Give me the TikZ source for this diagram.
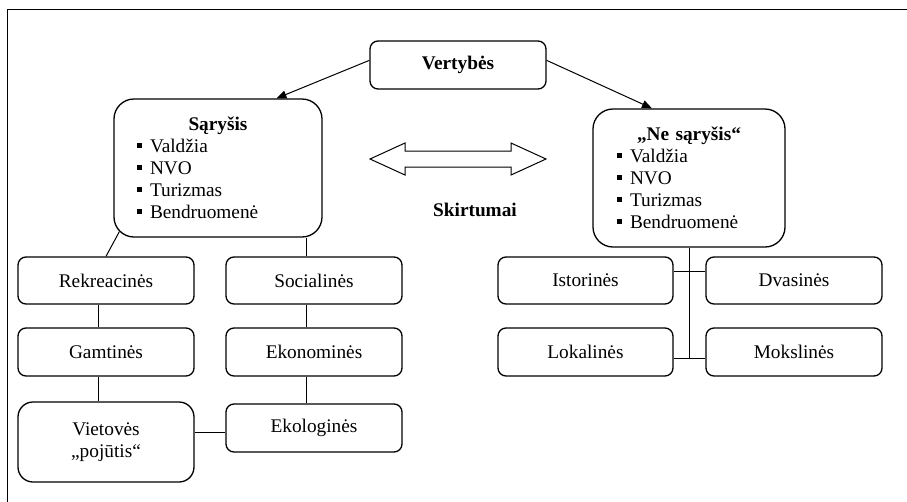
\documentclass[tikz,border=0pt]{standalone}
\usepackage{fontspec}
\setmainfont{Liberation Serif}
\usetikzlibrary{arrows.meta}
\usetikzlibrary{calc}
\setlength{\parindent}{0pt}
\newcommand{\listmark}{\rule[4.5pt]{5pt}{5pt}\hspace{8pt}}

\begin{document}
\begin{tikzpicture}[x=1pt,y=-1pt,
    font=\fontsize{19.3}{22}\selectfont,
    box/.style={draw, line width=1.3pt, rounded corners=8pt, minimum width=176pt, minimum height=47pt, inner sep=0pt, align=center},
    bigbox/.style={draw, line width=1.3pt, rounded corners=20pt, minimum height=138pt, inner ysep=0pt, align=left},
    arr/.style={-{Triangle[length=10pt,width=8pt]}, line width=1pt},
    link/.style={line width=1pt}]

    \useasboundingbox (0,0) rectangle (907,501);
    \clip (0,0) rectangle (907,501);
    \draw[line width=1pt] (7,9) rectangle (930,530);

    % top
    \node[box, minimum height=48pt] (vertybes) at (458,65) {\textbf{Vertybės}};
    \node[bigbox, text width=162pt, inner xsep=23pt] (sarysis) at (218,168)
        {{\centering\textbf{Sąryšis}\par}\listmark Valdžia\\\listmark NVO\\\listmark Turizmas\\\listmark Bendruomenė};
    \node[bigbox, text width=144pt, inner xsep=24pt] (nesarysis) at (689,178)
        {{\centering\textbf{„Ne sąryšis“}\par}\listmark Valdžia\\\listmark NVO\\\listmark Turizmas\\\listmark Bendruomenė};

    \draw[arr] (vertybes.177) -- (sarysis.50);
    \draw[arr] (vertybes.3) -- (nesarysis.118);

    \draw[line width=1pt] (370,159) -- ++(35,-16) -- ++(0,8) -- ++(106,0) -- ++(0,-8) -- ++(35,16)
        -- ++(-35,16) -- ++(0,-8) -- ++(-106,0) -- ++(0,8) -- cycle;
    \node (skirtumai) at (475,210) {\textbf{Skirtumai}};

    % left columns
    \node[box] (rekreacines) at (106,280.5) {Rekreacinės};
    \node[box] (socialines) at (314,280.5) {Socialinės};
    \node[box, minimum height=48pt] (gamtines) at (106,352) {Gamtinės};
    \node[box, minimum height=48pt] (ekonomines) at (314,352) {Ekonominės};
    \node[box, minimum height=80pt, rounded corners=15pt] (vietoves) at (106,442) {Vietovės\\„pojūtis“};
    \node[box, minimum height=48pt] (ekologines) at (314,428) {Ekologinės};

    \coordinate (lx) at (98,0);
    \coordinate (rx) at (306,0);
    \coordinate (hy) at (0,432);
    \draw[link] (rekreacines.north) -- ($(sarysis.south west)+(6,-6)$);
    \draw[link] (sarysis.south -| rx) -- (socialines.north -| rx);
    \draw[link] (socialines.south -| rx) -- (ekonomines.north -| rx);
    \draw[link] (ekonomines.south -| rx) -- (ekologines.north -| rx);
    \draw[link] (rekreacines.south -| lx) -- (gamtines.north -| lx);
    \draw[link] (gamtines.south -| lx) -- (vietoves.north -| lx);
    \draw[link] (vietoves.east |- hy) -- (ekologines.west |- hy);

    % right columns
    \node[box, minimum width=175pt] (istorines) at (585.5,280.5) {Istorinės};
    \node[box] (dvasines) at (794,280.5) {Dvasinės};
    \node[box, minimum width=175pt, minimum height=48pt] (lokalines) at (585.5,352) {Lokalinės};
    \node[box, minimum height=48pt] (mokslines) at (794,352) {Mokslinės};

    \coordinate (jt) at (689,271);
    \coordinate (jb) at (689,358);
    \draw[link] (nesarysis.south) -- (jb);
    \draw[link] (istorines.east |- jt) -- (dvasines.west |- jt);
    \draw[link] (lokalines.east |- jb) -- (mokslines.west |- jb);
\end{tikzpicture}
\end{document}
